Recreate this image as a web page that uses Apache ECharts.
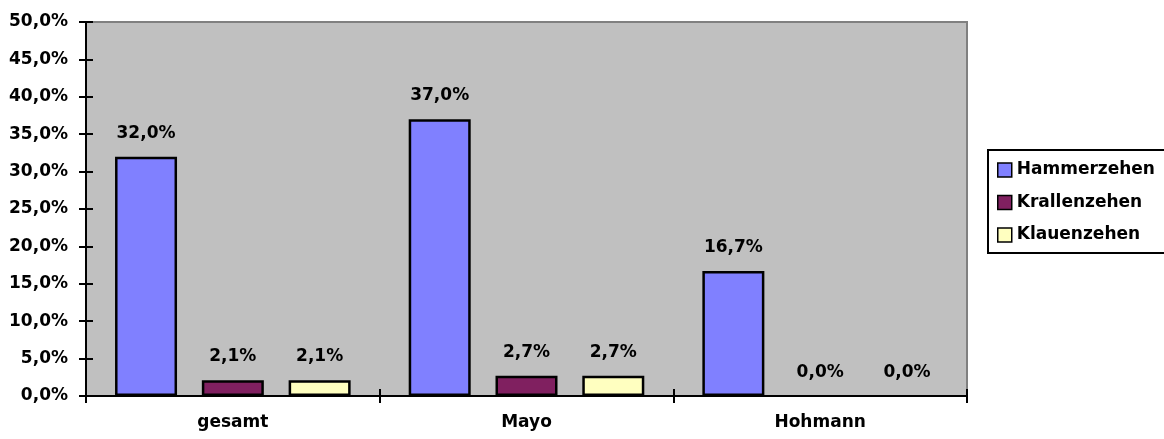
<!DOCTYPE html>
<html>
<head>
<meta charset="utf-8">
<script src="https://cdn.jsdelivr.net/npm/echarts@6/dist/echarts.min.js"></script>
<style>
  html, body { margin: 0; padding: 0; background: #ffffff; }
  #chart { width: 1164px; height: 439px; }
</style>
</head>
<body>
<div id="chart"></div>
<script>
// Anteil der Zehendeformitäten je Kollektiv (in Prozent)
const categories = ['gesamt', 'Mayo', 'Hohmann'];
const hammerzehen = [32.0, 37.0, 16.7];
const krallenzehen = [2.1, 2.7, 0.0];
const klauenzehen = [2.1, 2.7, 0.0];
const seriesNames = ['Hammerzehen', 'Krallenzehen', 'Klauenzehen'];
const yTicks = [0, 5, 10, 15, 20, 25, 30, 35, 40, 45, 50];

const FONT = 'DejaVu Sans';
const fmt = v => v.toFixed(1).replace('.', ',') + '%';

const chart = echarts.init(document.getElementById('chart'), null, { renderer: 'canvas' });

const baseLabel = {
  show: true,
  position: 'top',
  distance: 15,
  fontFamily: FONT,
  fontWeight: 'bold',
  fontSize: 17,
  color: '#000',
  formatter: p => fmt(p.value)
};

// zero-height bars get no outline, only their value label
function items(data) {
  return data.map(v => v === 0 ? { value: v, itemStyle: { borderWidth: 0 } } : v);
}

function bar(name, data, color) {
  return {
    name: name,
    type: 'bar',
    data: items(data),
    barWidth: 62,
    barGap: '40%',
    itemStyle: { color: color, borderColor: '#000', borderWidth: 2.5 },
    label: baseLabel,
    emphasis: { disabled: true }
  };
}

chart.setOption({
  animation: false,
  backgroundColor: '#ffffff',
  grid: {
    left: 86, top: 22, right: 197, bottom: 43,
    show: true,
    backgroundColor: '#C0C0C0',
    borderColor: '#808080',
    borderWidth: 2
  },
  graphic: [{
    type: 'rect',
    shape: { x: 988, y: 150, width: 200, height: 103 },
    style: { fill: '#ffffff', stroke: '#000', lineWidth: 2 },
    z: 0
  }],
  legend: {
    data: seriesNames,
    orient: 'vertical',
    left: 997,
    top: 160,
    padding: 0,
    itemGap: 12.5,
    itemWidth: 14,
    itemHeight: 14,
    icon: 'rect',
    itemStyle: { borderColor: '#000', borderWidth: 1.5 },
    textStyle: {
      fontFamily: FONT, fontWeight: 'bold', fontSize: 17, color: '#000',
      lineHeight: 20
    },
    z: 5
  },
  xAxis: [{
    type: 'category',
    data: categories,
    axisLine: { lineStyle: { color: '#000', width: 2 } },
    axisTick: { show: true, length: 7, lineStyle: { color: '#000', width: 2 } },
    axisLabel: {
      margin: 18, fontFamily: FONT, fontWeight: 'bold', fontSize: 17, color: '#000'
    },
    z: 3
  }, {
    // inner half of the crossing category ticks
    type: 'category',
    data: categories,
    position: 'bottom',
    axisLine: { show: false },
    axisTick: { show: true, inside: true, length: 7, lineStyle: { color: '#000', width: 2 } },
    axisLabel: { show: false },
    z: 3
  }],
  yAxis: [{
    type: 'value',
    min: 0, max: 50, interval: 5,
    axisLine: { show: true, lineStyle: { color: '#000', width: 2 } },
    axisTick: { show: true, length: 7, lineStyle: { color: '#000', width: 2 } },
    splitLine: { show: false },
    axisLabel: {
      margin: 18, fontFamily: FONT, fontWeight: 'bold', fontSize: 17, color: '#000',
      formatter: v => yTicks.includes(v) ? fmt(v) : ''
    },
    z: 3
  }, {
    // inner half of the crossing value ticks
    type: 'value',
    min: 0, max: 50, interval: 5,
    position: 'left',
    axisLine: { show: false },
    axisTick: { show: true, inside: true, length: 7, lineStyle: { color: '#000', width: 2 } },
    splitLine: { show: false },
    axisLabel: { show: false },
    z: 3
  }],
  series: [
    bar(seriesNames[0], hammerzehen, '#8080FF'),
    bar(seriesNames[1], krallenzehen, '#802060'),
    bar(seriesNames[2], klauenzehen, '#FFFFC0')
  ]
});
</script>
</body>
</html>
